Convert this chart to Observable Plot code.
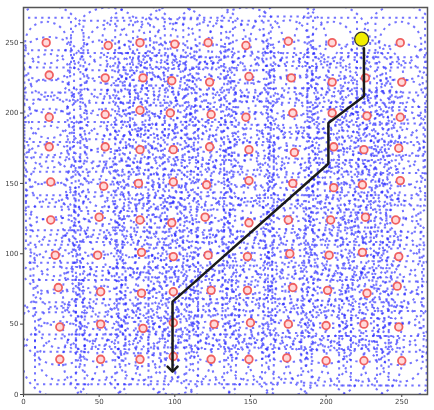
<!DOCTYPE html>
<html><head><meta charset="utf-8">
<script src="https://cdn.jsdelivr.net/npm/d3@7"></script>
<script src="https://cdn.jsdelivr.net/npm/@observablehq/plot@0.6"></script>
<style>body{margin:0;background:#fff} svg{display:block} #chart svg{filter:blur(0.45px)}</style>
</head><body><div id="chart"></div>
<script>
// sensor nodes (read row by row, top to bottom)
const nodeX = [
 15,56,77,100,122,147,175,204,249,
 17,54,79,98,123,149,177,204,226,250,
 17,54,77,97,124,147,178,204,227,249,
 17,54,77,99,123,149,179,205,225,248,
 18,53,76,99,121,149,178,205,224,249,
 18,50,77,98,120,149,175,203,226,246,
 21,49,78,99,122,148,176,202,224,248,
 23,51,78,99,124,148,178,201,227,247,
 24,51,79,99,126,150,175,200,225,248,
 24,51,77,99,124,149,174,200,225,250
];
const nodeY = [
 250,248,250,249,250,248,251,250,250,
 227,225,225,223,222,226,225,222,225,222,
 197,199,202,200,199,197,200,200,198,197,
 176,176,174,174,176,174,172,176,174,175,
 151,148,150,151,149,152,150,147,149,152,
 124,126,124,122,126,122,124,124,126,124,
 99,99,101,98,99,98,100,99,101,98,
 76,73,72,73,74,74,76,74,72,77,
 48,50,47,51,50,51,50,49,50,48,
 25,25,25,27,25,25,26,24,24,24
];
// routing path from the sink downwards
const pathX = [225, 225, 201.5, 201.5, 98.5, 98.5];
const pathY = [246, 212, 193, 164, 66, 18];
// sink
const sinkX = [223.5];
const sinkY = [252.5];
const xTicks = [0, 50, 100, 150, 200, 250];
const yTicks = [0, 50, 100, 150, 200, 250];

const nodes = nodeX.map((x, i) => ({x, y: nodeY[i]}));
const path = pathX.map((x, i) => ({x, y: pathY[i]}));
const sink = sinkX.map((x, i) => ({x, y: sinkY[i]}));

const blue = {x: "x", y: "y", stroke: "#2a2aff", strokeWidth: 2, strokeDasharray: "2.3,4.3", strokeOpacity: 0.65, fill: "none", clip: true};

const plot = Plot.plot({
  width: 434, height: 410,
  marginLeft: 23, marginRight: 7, marginTop: 7, marginBottom: 16,
  x: {domain: [0, 267], ticks: xTicks, label: null, tickSize: 3, tickPadding: 2},
  y: {domain: [0, 275], ticks: yTicks, label: null, tickSize: 3, tickPadding: 2},
  style: {fontFamily: "DejaVu Sans", fontSize: "7px", color: "#444", background: "#fff"},
  marks: [
    Plot.dot(nodes, {...blue, r: 38}),
    Plot.dot(nodes, {...blue, r: 21}),
    Plot.dot(nodes, {...blue, r: 28, symbol: "square"}),
    Plot.frame({stroke: "#555", strokeWidth: 1.5}),
    Plot.dot(nodes, {x: "x", y: "y", r: 3.8, stroke: "#f06060", fill: "#ffdada", strokeWidth: 1.8}),
    Plot.line(path, {x: "x", y: "y", stroke: "#1a1a1a", strokeWidth: 2.5, markerEnd: "arrow"}),
    Plot.dot(sink, {x: "x", y: "y", r: 7, fill: "#f2ee00", stroke: "#333", strokeWidth: 1.3})
  ]
});
document.getElementById("chart").appendChild(plot);
</script>
</body></html>
